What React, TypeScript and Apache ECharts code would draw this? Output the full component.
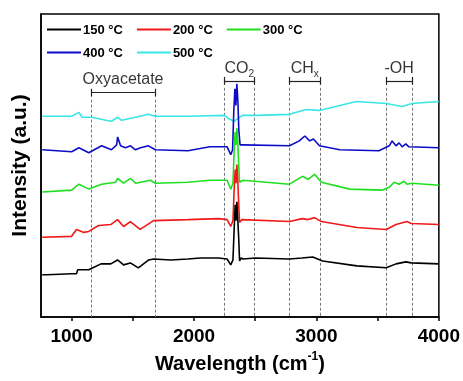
import React, { useEffect, useRef } from "react";
import * as echarts from "echarts";

const seriesNames = ["150 °C", "200 °C", "300 °C", "400 °C", "500 °C"];
const seriesColors = ["#000000", "#f01818", "#1ee01e", "#0c0cc8", "#3ae6e6"];

const data150: number[][] = [
  [760, 43], [800, 43], [1000, 44], [1040, 44], [1050, 48], [1140, 48], [1240, 54], [1320, 54],
  [1375, 58], [1425, 53], [1480, 55], [1545, 50], [1630, 58], [1670, 59], [1810, 58], [1950, 59],
  [2050, 60], [2200, 60], [2270, 59], [2300, 53], [2318, 58], [2328, 90], [2336, 114], [2343, 98],
  [2350, 117], [2357, 100], [2365, 80], [2372, 57], [2385, 60], [2400, 59], [2500, 60], [2780, 59],
  [2880, 60], [2970, 61], [3050, 57], [3330, 52], [3570, 50], [3650, 54], [3730, 56], [3775, 55],
  [4000, 54],
];
const data200: number[][] = [
  [760, 81], [1000, 82], [1040, 89], [1100, 86], [1140, 87], [1220, 93], [1320, 94], [1375, 99],
  [1425, 92], [1480, 97], [1560, 89], [1670, 98], [1950, 99], [2200, 100], [2270, 99], [2300, 92],
  [2318, 98], [2328, 130], [2336, 150], [2343, 136], [2350, 155], [2357, 140], [2365, 115],
  [2372, 96], [2390, 99], [2780, 97], [2885, 100], [2930, 99], [2985, 101], [3040, 97], [3330, 91],
  [3570, 89], [3650, 94], [3740, 97], [3775, 95], [4000, 94],
];
const data300: number[][] = [
  [760, 127], [1000, 129], [1060, 135], [1140, 130], [1245, 135], [1360, 137], [1376, 141],
  [1424, 136], [1481, 141], [1522, 136], [1644, 139], [1684, 136], [1950, 137], [2130, 139],
  [2270, 139], [2300, 130], [2318, 136], [2328, 170], [2336, 188], [2343, 175], [2350, 192],
  [2357, 178], [2365, 155], [2372, 137], [2400, 139], [2780, 135], [2885, 143], [2930, 140],
  [2985, 145], [3040, 137], [3270, 130], [3540, 129], [3595, 132], [3635, 137], [3675, 135],
  [3715, 138], [3740, 135], [3780, 136], [4000, 134],
];
const data400: number[][] = [
  [760, 170], [1000, 168], [1060, 172], [1140, 167], [1245, 174], [1325, 170], [1368, 175],
  [1376, 183], [1400, 174], [1440, 172], [1481, 174], [1522, 170], [1563, 172], [1628, 174],
  [1684, 170], [1950, 169], [2130, 173], [2270, 173], [2300, 165], [2315, 170], [2325, 210],
  [2334, 232], [2342, 215], [2350, 237], [2358, 220], [2366, 190], [2376, 175], [2400, 175],
  [2780, 174], [2860, 179], [2905, 184], [2945, 179], [2975, 181], [3025, 174], [3190, 170],
  [3510, 169], [3595, 174], [3618, 179], [3650, 174], [3675, 177], [3700, 173], [3730, 176],
  [3755, 173], [4000, 172],
];
const data500: number[][] = [
  [760, 204], [1000, 204], [1060, 208], [1085, 203], [1165, 203], [1280, 200], [1325, 199],
  [1376, 203], [1408, 200], [1522, 203], [1628, 206], [1684, 204], [1950, 204], [2250, 205],
  [2290, 201], [2330, 199], [2370, 203], [2400, 205], [2513, 205], [2780, 206], [2915, 211],
  [3025, 210], [3326, 219], [3570, 217], [3700, 214], [3780, 217], [4000, 219],
];
const allData = [data150, data200, data300, data400, data500];

const bandNames = ["Oxyacetate", "CO{sub|2}", "CH{sub|x}", "-OH"];
const bandStart = [1160, 2250, 2780, 3570];
const bandEnd = [1680, 2490, 3030, 3780];
const bandLevel = [228, 240, 240, 240];

const xTicks = [1000, 1500, 2000, 2500, 3000, 3500, 4000];
const xTickLabels = [1000, 2000, 3000, 4000];

const FONT = "'Liberation Sans', Arial, sans-serif";

export default function App() {
  const ref = useRef<HTMLDivElement>(null);
  useEffect(() => {
    if (!ref.current) return;
    const chart = echarts.init(ref.current, undefined, { renderer: "svg" });

    const lineSeries = allData.map((d, i) => ({
      name: seriesNames[i],
      type: "line",
      data: d,
      symbol: "none",
      z: 10 - i,
      lineStyle: { color: seriesColors[i], width: 1.6 },
      itemStyle: { color: seriesColors[i] },
      silent: true,
    }));

    const dashedData: any[] = [];
    const bracketData: any[] = [];
    bandStart.forEach((s, i) => {
      const e = bandEnd[i];
      const lv = bandLevel[i];
      dashedData.push([{ coord: [s, lv - 7] }, { coord: [s, 0] }]);
      dashedData.push([{ coord: [e, lv - 7] }, { coord: [e, 0] }]);
      bracketData.push([{ coord: [s, lv] }, { coord: [e, lv] }]);
      bracketData.push([{ coord: [s, lv - 4] }, { coord: [s, lv + 4] }]);
      bracketData.push([{ coord: [e, lv - 4] }, { coord: [e, lv + 4] }]);
    });

    const legendCommon = {
      left: 42,
      icon: "rect",
      itemWidth: 34,
      itemHeight: 2,
      itemGap: 14,
      textStyle: { fontFamily: FONT, fontSize: 13, fontWeight: "bold", color: "#000", padding: [0, 0, 0, -3] },
    };

    const option: any = {
      animation: false,
      grid: { left: 39, right: 22, top: 14, bottom: 59, show: true, borderColor: "#000", borderWidth: 1.5 },
      legend: [
        { ...legendCommon, data: seriesNames.slice(0, 3), top: 18 },
        { ...legendCommon, data: seriesNames.slice(3), top: 41 },
      ],
      xAxis: {
        type: "value",
        min: 750,
        max: 4000,
        name: "Wavelength (cm{sup|-1})",
        nameLocation: "middle",
        nameGap: 33,
        nameTextStyle: {
          fontFamily: FONT,
          fontSize: 20,
          fontWeight: "bold",
          color: "#000",
          lineHeight: 26,
          rich: {
            sup: { fontFamily: FONT, fontSize: 12, fontWeight: "bold", color: "#000", verticalAlign: "top", lineHeight: 22 },
          },
        },
        axisLine: { lineStyle: { color: "#000", width: 1.5 } },
        axisTick: { customValues: xTicks, length: 4, inside: false, lineStyle: { color: "#000", width: 1.5 } },
        axisLabel: {
          customValues: xTickLabels,
          formatter: (v: number) => String(v),
          margin: 9,
          fontFamily: FONT,
          fontSize: 19,
          fontWeight: "bold",
          color: "#000",
        },
        splitLine: { show: false },
      },
      yAxis: {
        type: "value",
        min: 0,
        max: 308,
        name: "Intensity (a.u.)",
        nameLocation: "middle",
        nameGap: 12,
        nameTextStyle: { fontFamily: FONT, fontSize: 21, fontWeight: "bold", color: "#000" },
        axisLine: { show: true, lineStyle: { color: "#000", width: 1.5 } },
        axisTick: { show: false },
        axisLabel: { show: false },
        splitLine: { show: false },
      },
      series: [
        {
          name: "guides",
          type: "line",
          data: [],
          z: 1,
          silent: true,
          markLine: {
            silent: true,
            symbol: ["none", "none"],
            label: { show: false },
            lineStyle: { color: "#777", width: 1, type: [3, 2] },
            data: dashedData,
          },
        },
        {
          name: "brackets",
          type: "line",
          data: [],
          z: 2,
          silent: true,
          markLine: {
            silent: true,
            symbol: ["none", "none"],
            label: { show: false },
            lineStyle: { color: "#222", width: 1.2, type: "solid" },
            data: bracketData,
          },
        },
        ...lineSeries,
        {
          name: "bandLabels",
          type: "scatter",
          symbolSize: 0,
          silent: true,
          z: 20,
          data: bandNames.map((n, i) => ({
            value: [(bandStart[i] + bandEnd[i]) / 2, bandLevel[i] + 14],
            name: n,
          })),
          label: {
            show: true,
            position: "inside",
            formatter: (p: any) => p.name,
            fontFamily: FONT,
            fontSize: 16,
            color: "#000",
            lineHeight: 22,
            rich: {
              sub: { fontFamily: FONT, fontSize: 10, color: "#000", verticalAlign: "bottom", lineHeight: 22 },
            },
          },
        },
      ],
    };
    chart.setOption(option);
    return () => chart.dispose();
  }, []);
  return <div ref={ref} style={{ position: "fixed", left: 0, top: 0, width: 463, height: 381 }} />;
}
